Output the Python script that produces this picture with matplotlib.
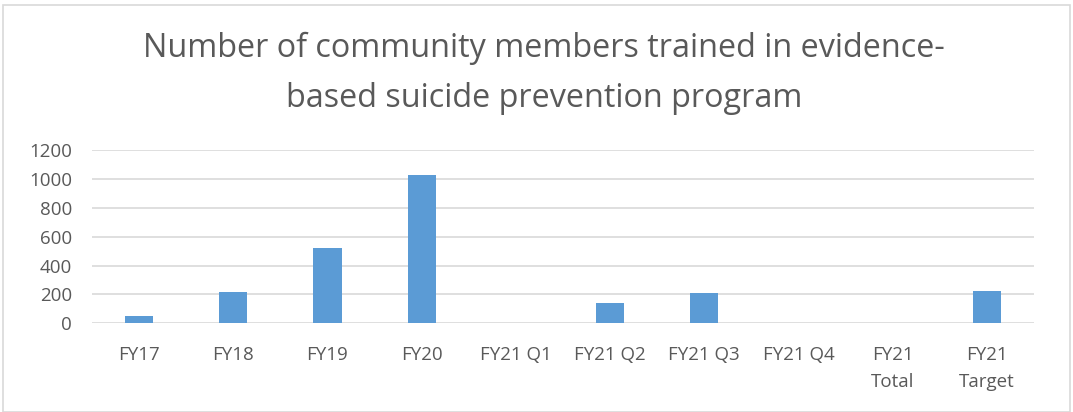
import matplotlib
matplotlib.use("Agg")
import matplotlib.pyplot as plt
from matplotlib.patches import Rectangle

categories = ["FY17", "FY18", "FY19", "FY20", "FY21 Q1", "FY21 Q2", "FY21 Q3", "FY21 Q4", "FY21\nTotal", "FY21\nTarget"]
values = [48, 217, 521, 1029, 0, 141, 210, 0, 0, 224]
yticks = [0, 200, 400, 600, 800, 1000, 1200]
title = "Number of community members trained in evidence-\nbased suicide prevention program"

plt.rcParams['font.family'] = ['Open Sans', 'DejaVu Sans']
W, H = 1073, 412
fig = plt.figure(figsize=(W/100, H/100), dpi=100)
ax = fig.add_axes([92/W, 1-323.3/H, (1034-92)/W, (323.3-150)/H])

x = list(range(len(categories)))
ax.bar(x, values, width=0.30, color="#5b9bd5", zorder=3)
ax.set_xlim(-0.5, len(categories)-0.5)
ax.set_ylim(0, 1200)
ax.set_yticks(yticks)
ax.set_yticklabels([str(v) for v in yticks])
ax.set_xticks(x)
ax.set_xticklabels(categories, linespacing=1.6)
ax.grid(axis='y', color="#d9d9d9", linewidth=1.2, zorder=0)
for s in ax.spines.values():
    s.set_visible(False)
ax.tick_params(axis='both', length=0, labelsize=13.5, colors="#595959")
ax.tick_params(axis='x', pad=16.5)
ax.tick_params(axis='y', pad=14.5)
for lbl in ax.get_yticklabels():
    lbl.set_horizontalalignment('right')

fig.text(544/W, 1-73/H, title, ha='center', va='center', fontsize=23.3,
         color="#595959", linespacing=1.68)

fig.patches.append(Rectangle((3/W, 0), (W-6)/W, 1-5/H, transform=fig.transFigure,
                             fill=False, edgecolor="#d9d9d9", linewidth=1.2))

fig.savefig("out.png", dpi=100)
